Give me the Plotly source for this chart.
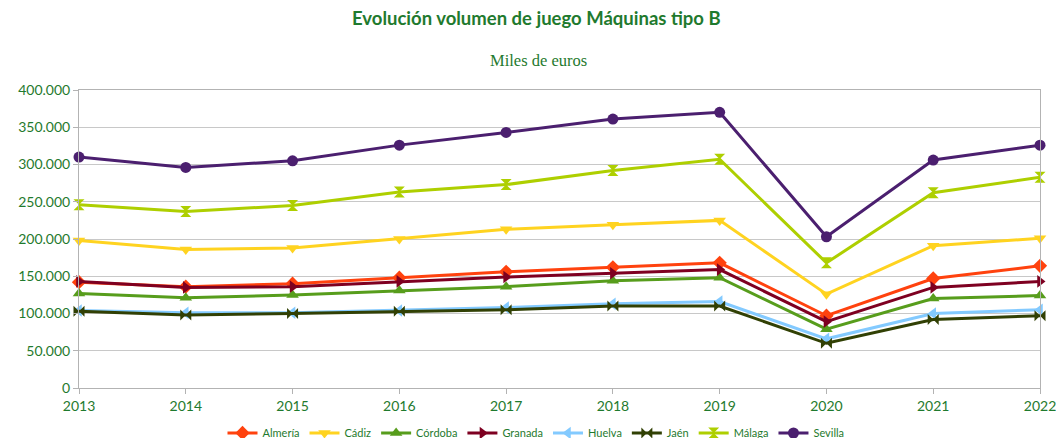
import plotly.graph_objects as go

years = [2013, 2014, 2015, 2016, 2017, 2018, 2019, 2020, 2021, 2022]

almeria = [142000, 136000, 140000, 148000, 156000, 162000, 168000, 97000, 147000, 164000]
cadiz = [198000, 186000, 188000, 200000, 213000, 219000, 225000, 126000, 191000, 201000]
cordoba = [127000, 121000, 125000, 131000, 136000, 144000, 148000, 79000, 120000, 124000]
granada = [143000, 135000, 136000, 143000, 149000, 154000, 159000, 89000, 135000, 143000]
huelva = [104000, 101000, 101000, 104000, 108000, 113000, 116000, 66000, 100000, 105000]
jaen = [103000, 98000, 100000, 103000, 105000, 110000, 110000, 60000, 92000, 97000]
malaga = [246000, 237000, 245000, 263000, 273000, 292000, 307000, 168000, 262000, 283000]
sevilla = [310000, 296000, 305000, 326000, 343000, 361000, 370000, 203000, 306000, 326000]

names = ["Almería", "Cádiz", "Córdoba", "Granada", "Huelva", "Jaén", "Málaga", "Sevilla"]
series = [almeria, cadiz, cordoba, granada, huelva, jaen, malaga, sevilla]
colors = ["#ff420e", "#ffd320", "#579d1c", "#7e0021", "#83caff", "#314004", "#aecf00", "#4b1f6f"]
symbols = ["diamond", "triangle-down", "triangle-up", "triangle-right", "triangle-left",
           "bowtie", "hourglass", "circle"]

green = "#1f7a2e"
sans = "Lato, Open Sans, sans-serif"

fig = go.Figure()
for n, s, c, sym in zip(names, series, colors, symbols):
    fig.add_trace(go.Scatter(
        x=years, y=s, name=n, mode="lines+markers",
        line=dict(color=c, width=3),
        marker=dict(symbol=sym, size=11, color=c, line=dict(width=0)),
        cliponaxis=False,
    ))

# page body adds an 8px offset; figure coordinates are shifted accordingly
OFF = 8
W, H = 1048, 430
L, T = 79 - OFF, 90 - OFF
R = W - (1040 - OFF)
B = H - (388 - OFF)
PW, PH = W - L - R, H - T - B

fig.update_layout(
    width=W, height=H,
    margin=dict(l=L, r=R, t=T, b=B, autoexpand=False),
    paper_bgcolor="white", plot_bgcolor="white",
    separators=",.",
    showlegend=True,
    legend=dict(orientation="h", x=(536 - OFF) / W, xanchor="center",
                xref="container", yref="container", y=(H - (433 - OFF)) / H, yanchor="middle",
                font=dict(family=sans, size=11, color=green),
                itemwidth=30, tracegroupgap=0, bgcolor="rgba(0,0,0,0)"),
)
fig.add_annotation(text="<b>Evolución volumen de juego Máquinas tipo B</b>",
                   xref="paper", yref="paper", x=(536 - OFF - L) / PW, y=1 + (T - (18 - OFF)) / PH,
                   showarrow=False, xanchor="center", yanchor="middle",
                   font=dict(family=sans, size=18.5, color=green))
fig.add_annotation(text="Miles de euros",
                   xref="paper", yref="paper", x=(538 - OFF - L) / PW, y=1 + (T - (60 - OFF)) / PH,
                   showarrow=False, xanchor="center", yanchor="middle",
                   font=dict(family="Liberation Serif, DejaVu Serif, serif", size=16.5, color=green))

fig.update_xaxes(
    range=[2013, 2022], tickmode="array", tickvals=years, ticktext=[str(y) for y in years],
    showgrid=False, showline=True, linecolor="#b3b3b3", linewidth=1, mirror=True,
    ticks="outside", ticklen=5, tickcolor="#b3b3b3",
    tickfont=dict(family=sans, size=14, color=green),
    zeroline=False, automargin=False, ticklabeloverflow="allow",
)
fig.update_yaxes(
    range=[0, 400000], tickmode="linear", tick0=0, dtick=50000, tickformat=",d",
    showgrid=True, gridcolor="#c8c8c8", gridwidth=1,
    showline=True, linecolor="#b3b3b3", linewidth=1, mirror=True,
    ticks="outside", ticklen=5, tickcolor="#b3b3b3",
    tickfont=dict(family=sans, size=14, color=green),
    zeroline=False, automargin=False,
)

fig.write_html("out.html")
